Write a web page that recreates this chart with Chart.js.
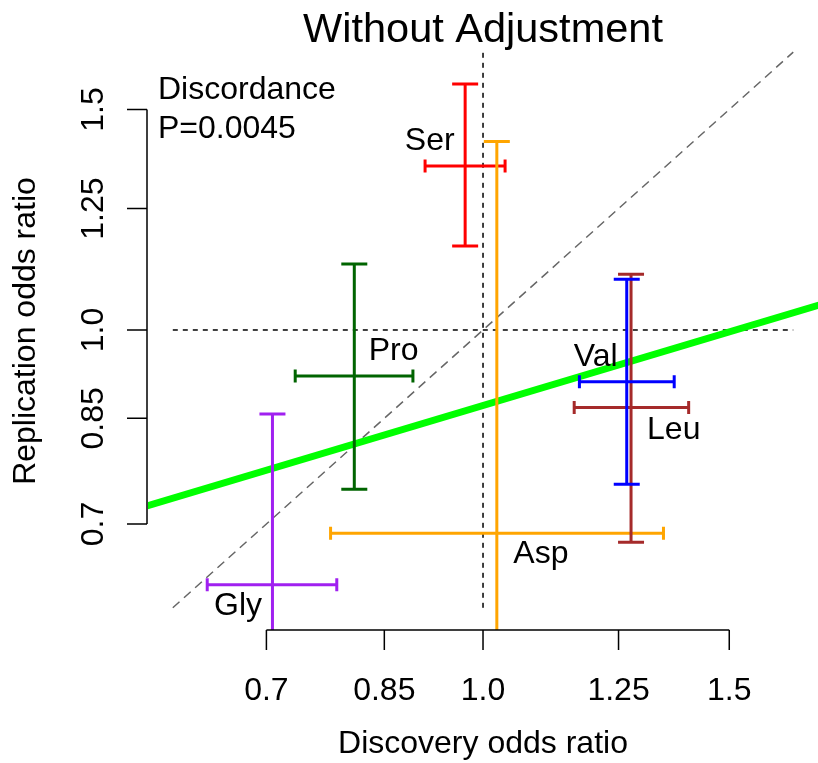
<!DOCTYPE html>
<html>
<head>
<meta charset="utf-8">
<title>Without Adjustment</title>
<script src="https://cdn.jsdelivr.net/npm/chart.js@4.4.1/dist/chart.umd.min.js"></script>
<style>
  html, body { margin: 0; padding: 0; background: #fff; }
  canvas { display: block; }
</style>
</head>
<body>
<canvas id="chart" width="818" height="763"></canvas>
<script>
// odds ratios per amino acid, discovery on x, replication on y, with CI ends
const aminoAcids = ['Gly', 'Pro', 'Ser', 'Asp', 'Leu', 'Val'];
const barColors = ['#a020f0', '#006400', '#ff0000', '#ffa500', '#a52a2a', '#0000ff'];
const discOR = [0.707, 0.809, 0.971, 1.023, 1.276, 1.267];
const discLo = [0.635, 0.734, 0.909, 0.778, 1.162, 1.172];
const discHi = [0.786, 0.891, 1.037, 1.346, 1.403, 1.370];
const replOR = [0.626, 0.919, 1.352, 0.688, 0.867, 0.909];
const replLo = [0.458, 0.746, 1.167, 0.335, 0.677, 0.753];
const replHi = [0.857, 1.129, 1.572, 1.414, 1.108, 1.098];
// where each name is written
const labelX = [0.668, 0.863, 0.916, 1.100, 1.369, 1.204];
const labelY = [0.602, 0.962, 1.416, 0.662, 0.832, 0.952];

const tickValues = [0.7, 0.85, 1.0, 1.25, 1.5];
const tickLabels = ['0.7', '0.85', '1.0', '1.25', '1.5'];

// plot limits (same on both axes)
const AX_MIN = 0.576;
const AX_MAX = 1.736;

// y = x and the two null lines run between these
const refLo = 0.6;
const refHi = 1 / 0.6;

// fitted line end points
const fitX = [0.55, 1.8];
const fitY = [0.713, 1.059];

const FONT = '"Liberation Sans", Arial, Helvetica, sans-serif';

const rPlot = {
  id: 'rPlot',
  afterDatasetsDraw(chart) {
    const { ctx, chartArea: a, scales: { x, y } } = chart;

    // error bar crosses, clipped to the plot region
    ctx.save();
    ctx.beginPath();
    ctx.rect(a.left, a.top, a.right - a.left, a.bottom - a.top);
    ctx.clip();
    ctx.lineWidth = 3;
    ctx.lineCap = 'butt';
    aminoAcids.forEach((name, i) => {
      const cx = x.getPixelForValue(discOR[i]);
      const cy = y.getPixelForValue(replOR[i]);
      const x0 = x.getPixelForValue(discLo[i]);
      const x1 = x.getPixelForValue(discHi[i]);
      const y0 = y.getPixelForValue(replLo[i]);
      const y1 = y.getPixelForValue(replHi[i]);
      ctx.strokeStyle = barColors[i];
      ctx.beginPath();
      ctx.moveTo(x0, cy); ctx.lineTo(x1, cy);
      ctx.moveTo(x0, cy - 6.5); ctx.lineTo(x0, cy + 6.5);
      ctx.moveTo(x1, cy - 6.5); ctx.lineTo(x1, cy + 6.5);
      ctx.moveTo(cx, y0); ctx.lineTo(cx, y1);
      ctx.moveTo(cx - 13, y0); ctx.lineTo(cx + 13, y0);
      ctx.moveTo(cx - 13, y1); ctx.lineTo(cx + 13, y1);
      ctx.stroke();
    });
    ctx.restore();

    // names
    ctx.save();
    ctx.fillStyle = '#000';
    ctx.font = '32px ' + FONT;
    ctx.textAlign = 'center';
    ctx.textBaseline = 'middle';
    aminoAcids.forEach((name, i) => {
      ctx.fillText(name, x.getPixelForValue(labelX[i]), y.getPixelForValue(labelY[i]));
    });
    ctx.restore();
  },
  afterDraw(chart) {
    const { ctx, chartArea: a, scales: { x, y } } = chart;
    ctx.save();
    ctx.strokeStyle = '#000';
    ctx.fillStyle = '#000';
    ctx.lineWidth = 1.5;

    // bottom axis
    const xs = tickValues.map(v => x.getPixelForValue(v));
    const axY = a.bottom;
    ctx.beginPath();
    ctx.moveTo(xs[0], axY);
    ctx.lineTo(xs[xs.length - 1], axY);
    xs.forEach(p => { ctx.moveTo(p, axY); ctx.lineTo(p, axY + 20); });
    ctx.stroke();

    // left axis
    const ys = tickValues.map(v => y.getPixelForValue(v));
    const axX = a.left - 1;
    ctx.beginPath();
    ctx.moveTo(axX, ys[0]);
    ctx.lineTo(axX, ys[ys.length - 1]);
    ys.forEach(p => { ctx.moveTo(axX, p); ctx.lineTo(axX - 20, p); });
    ctx.stroke();

    ctx.font = '32px ' + FONT;
    ctx.textAlign = 'center';
    ctx.textBaseline = 'alphabetic';
    tickLabels.forEach((t, i) => ctx.fillText(t, xs[i], 700));
    tickLabels.forEach((t, i) => {
      ctx.save();
      ctx.translate(103, ys[i]);
      ctx.rotate(-Math.PI / 2);
      ctx.fillText(t, 0, 0);
      ctx.restore();
    });

    const midX = (a.left + a.right) / 2;
    const midY = (a.top + a.bottom) / 2;
    ctx.fillText('Discovery odds ratio', midX, 753);
    ctx.save();
    ctx.translate(35, midY + 1);
    ctx.rotate(-Math.PI / 2);
    ctx.fillText('Replication odds ratio', 0, 0);
    ctx.restore();

    ctx.textAlign = 'left';
    ctx.fillText('Discordance', 158, 99);
    ctx.fillText('P=0.0045', 158, 138);

    ctx.textAlign = 'center';
    ctx.font = '41.5px ' + FONT;
    ctx.fillText('Without Adjustment', midX, 42);
    ctx.restore();
  }
};

const seg = (xa, ya) => xa.map((v, i) => ({ x: v, y: ya[i] }));

new Chart(document.getElementById('chart'), {
  type: 'scatter',
  data: {
    datasets: [
      {
        data: seg(fitX, fitY),
        showLine: true, borderColor: '#00ff00', borderWidth: 7, pointRadius: 0
      },
      {
        data: seg([refLo, refHi], [refLo, refHi]),
        showLine: true, borderColor: '#666666', borderWidth: 1.5, borderDash: [9, 6], pointRadius: 0
      },
      {
        data: seg([1, 1], [refLo, refHi]),
        showLine: true, borderColor: '#000', borderWidth: 1.5, borderDash: [5, 5], pointRadius: 0
      },
      {
        data: seg([refLo, refHi], [1, 1]),
        showLine: true, borderColor: '#000', borderWidth: 1.5, borderDash: [5, 5], pointRadius: 0
      }
    ]
  },
  options: {
    responsive: false,
    animation: false,
    events: [],
    layout: { padding: { left: 148, right: 0, top: 30, bottom: 133 } },
    plugins: { legend: { display: false }, tooltip: { enabled: false } },
    scales: {
      x: { type: 'logarithmic', min: AX_MIN, max: AX_MAX, bounds: 'data', display: false },
      y: { type: 'logarithmic', min: AX_MIN, max: AX_MAX, bounds: 'data', display: false }
    }
  },
  plugins: [rPlot]
});
</script>
</body>
</html>
